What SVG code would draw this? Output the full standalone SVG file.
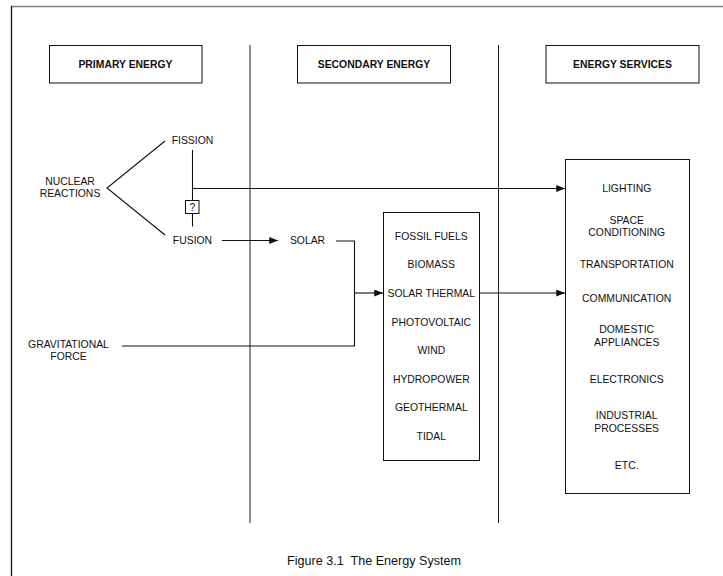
<svg xmlns="http://www.w3.org/2000/svg" width="723" height="576" viewBox="0 0 723 576">
<style>
text{font-family:"Liberation Sans",Arial,sans-serif;font-size:10.4px;fill:#111;text-anchor:middle}
.h{font-weight:bold}
.cap{font-size:12.6px}
.box{fill:#fff;stroke:#111;stroke-width:1}
.ln{fill:none;stroke:#111;stroke-width:1.1}
.div{stroke:#222;stroke-width:1}
</style>
<defs>
<marker id="ah" viewBox="0 0 10 8" refX="10" refY="4" markerWidth="9" markerHeight="7" markerUnits="userSpaceOnUse" orient="auto">
<path d="M0,0L10,4L0,8z" fill="#111"/>
</marker>
</defs>
<rect width="723" height="576" fill="#fff"/>
<g id="frame">
<line x1="11" y1="6.5" x2="723" y2="6.5" stroke="#808080" stroke-width="1.5"/>
<line x1="11.5" y1="6" x2="11.5" y2="576" stroke="#111" stroke-width="1.3"/>
</g>
<g id="dividers">
<line class="div" x1="250" y1="45" x2="250" y2="523"/>
<line class="div" x1="498.5" y1="45" x2="498.5" y2="523"/>
</g>
<g id="connectors">
<polyline class="ln" points="165,141 107,188 165,235"/>
<line class="ln" x1="192.5" y1="150" x2="192.5" y2="200.5"/>
<line class="ln" x1="192.5" y1="213.5" x2="192.5" y2="226.5"/>
<line class="ln" x1="192.5" y1="188.5" x2="565" y2="188.5" marker-end="url(#ah)"/>
<line class="ln" x1="222" y1="240.5" x2="278" y2="240.5" marker-end="url(#ah)"/>
<polyline class="ln" points="336,241 354.5,241 354.5,346 122,346"/>
<line class="ln" x1="354.5" y1="293" x2="383" y2="293" marker-end="url(#ah)"/>
<line class="ln" x1="479" y1="293" x2="565" y2="293" marker-end="url(#ah)"/>
</g>
<g id="primary-energy">
<rect class="box" x="49.5" y="45.5" width="152.5" height="37.5"/>
<text class="h" x="125.5" y="67.7">PRIMARY ENERGY</text>
</g>
<g id="secondary-energy">
<rect class="box" x="297.5" y="45.5" width="153" height="37.5"/>
<text class="h" x="374" y="67.7">SECONDARY ENERGY</text>
</g>
<g id="energy-services">
<rect class="box" x="546" y="45.5" width="153" height="37.5"/>
<text class="h" x="622.5" y="67.7">ENERGY SERVICES</text>
</g>
<g id="nuclear-reactions">
<text x="70" y="185.4">NUCLEAR</text>
<text x="70" y="197">REACTIONS</text>
</g>
<g id="fission">
<text x="192.5" y="143.7">FISSION</text>
</g>
<g id="question">
<rect class="box" x="185.5" y="200.5" width="13.5" height="13"/>
<text x="192.3" y="211">?</text>
</g>
<g id="fusion">
<text x="192.5" y="243.7">FUSION</text>
</g>
<g id="solar">
<text x="307.5" y="243.7">SOLAR</text>
</g>
<g id="gravitational-force">
<text x="68.5" y="348">GRAVITATIONAL</text>
<text x="68.5" y="359.7">FORCE</text>
</g>
<g id="secondary-list">
<rect class="box" x="383.5" y="212.5" width="96" height="248"/>
<text x="431.3" y="239.7">FOSSIL FUELS</text>
<text x="431.3" y="268.3">BIOMASS</text>
<text x="431.3" y="296.9">SOLAR THERMAL</text>
<text x="431.3" y="325.5">PHOTOVOLTAIC</text>
<text x="431.3" y="354.1">WIND</text>
<text x="431.3" y="382.7">HYDROPOWER</text>
<text x="431.3" y="411.3">GEOTHERMAL</text>
<text x="431.3" y="439.9">TIDAL</text>
</g>
<g id="services-list">
<rect class="box" x="565.5" y="159.5" width="124" height="334"/>
<text x="626.7" y="192">LIGHTING</text>
<text x="626.7" y="223.7">SPACE</text>
<text x="626.7" y="236">CONDITIONING</text>
<text x="626.7" y="268">TRANSPORTATION</text>
<text x="626.7" y="302">COMMUNICATION</text>
<text x="626.7" y="333">DOMESTIC</text>
<text x="626.7" y="345.7">APPLIANCES</text>
<text x="626.7" y="382.7">ELECTRONICS</text>
<text x="626.7" y="418.7">INDUSTRIAL</text>
<text x="626.7" y="432">PROCESSES</text>
<text x="626.7" y="468.7">ETC.</text>
</g>
<g id="caption">
<text class="cap" x="374" y="565.2" xml:space="preserve">Figure 3.1  The Energy System</text>
</g>
</svg>
